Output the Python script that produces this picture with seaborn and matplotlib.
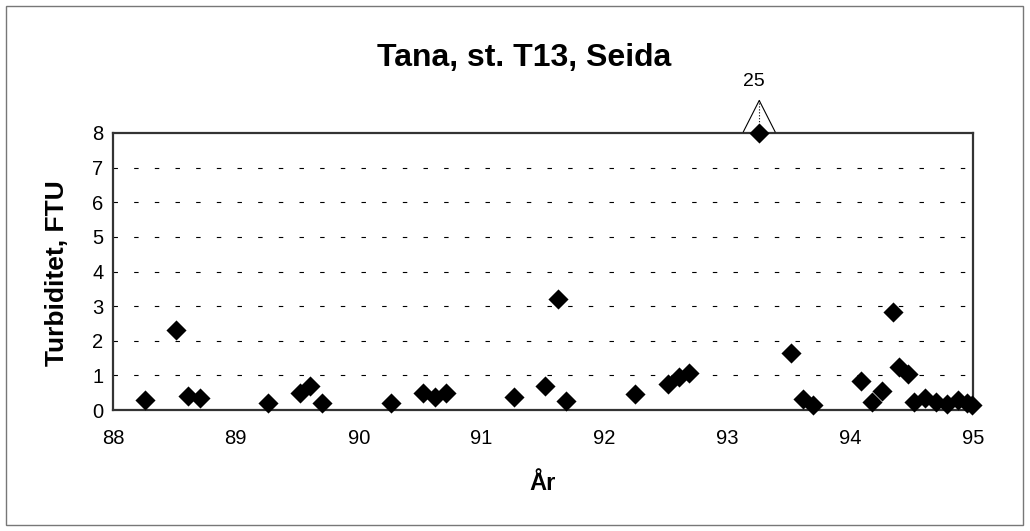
import numpy as np
import pandas as pd
import matplotlib
matplotlib.use("Agg")
import matplotlib.pyplot as plt
import seaborn as sns
from matplotlib.patches import Rectangle

# ---- data ----
year = [88.26, 88.51, 88.61, 88.71, 89.26, 89.52, 89.60, 89.70,
        90.26, 90.52, 90.62, 90.71, 91.26, 91.52, 91.62, 91.69,
        92.25, 92.52, 92.61, 92.69, 93.26, 93.52, 93.62, 93.70,
        94.09, 94.18, 94.26, 94.35, 94.40, 94.47, 94.52, 94.61,
        94.70, 94.79, 94.88, 94.95, 94.99]
turbiditet = [0.30, 2.30, 0.40, 0.35, 0.20, 0.50, 0.70, 0.20,
              0.20, 0.48, 0.37, 0.48, 0.37, 0.68, 3.20, 0.26,
              0.47, 0.76, 0.95, 1.07, 25.0, 1.65, 0.32, 0.15,
              0.84, 0.24, 0.55, 2.84, 1.25, 1.05, 0.24, 0.35,
              0.24, 0.17, 0.28, 0.19, 0.14]
x_ticks = [88, 89, 90, 91, 92, 93, 94, 95]
y_ticks = [0, 1, 2, 3, 4, 5, 6, 7, 8]
title = "Tana, st. T13, Seida"
xlabel = "År"
ylabel = "Turbiditet, FTU"

y_max = 8
df = pd.DataFrame({"year": year, "turb": turbiditet})
df["shown"] = np.minimum(df["turb"], y_max)

sns.set_theme(style="white")
plt.rcParams["font.family"] = ["Liberation Sans", "DejaVu Sans"]
plt.rcParams["text.color"] = "black"

fig = plt.figure(figsize=(10.30, 5.31), dpi=100)
ax = fig.add_axes([113 / 1030, 1 - 410 / 531, (973 - 113) / 1030, (410 - 133) / 531])

sns.scatterplot(data=df, x="year", y="shown", marker="D", color="black",
                s=105, linewidth=0, ax=ax, clip_on=False, zorder=5)

ax.set_xlim(88, 95)
ax.set_ylim(0, y_max)
ax.set_xticks(x_ticks)
ax.set_xticklabels([str(t) for t in x_ticks])
ax.set_yticks(y_ticks)
ax.set_yticklabels([str(t) for t in y_ticks])
ax.tick_params(axis="both", direction="inout", length=8, width=1,
               color="#222222", labelsize=14.5, labelcolor="black")
ax.tick_params(axis="x", pad=10)
ax.tick_params(axis="y", pad=3)

for gy in y_ticks[1:-1]:
    ax.axhline(gy, color="black", lw=0.8, dashes=(4, 14.6), zorder=1)

for sp in ax.spines.values():
    sp.set_visible(True)
    sp.set_color("#333333")
    sp.set_linewidth(1.6)

ax.set_xlabel("")
ax.set_ylabel("")

# annotation for the clipped value
idx = int(np.argmax(df["turb"].values))
px = df["year"].iloc[idx]
ax.plot([px - 0.13, px, px + 0.13], [8.03, 8.94, 8.03], color="black",
        lw=0.8, clip_on=False, zorder=6)
ax.plot([px, px], [8.94, 8.1], color="black", lw=0.8, ls=":",
        clip_on=False, zorder=6)
ax.text(px - 0.04, 9.25, f"{df['turb'].iloc[idx]:g}", ha="center",
        va="bottom", fontsize=14, color="black", clip_on=False)

fig.text(524 / 1030, 1 - 66 / 531, title, ha="center", va="baseline",
         fontsize=23, fontweight="bold", color="black")
fig.text(543 / 1030, 1 - 490 / 531, xlabel, ha="center", va="baseline",
         fontsize=17, fontweight="bold", color="black")
fig.text(57 / 1030, 1 - 273 / 531, ylabel, ha="center", va="center",
         rotation=90, fontsize=19, fontweight="bold", color="black")

fig.patches.append(Rectangle((6 / 1030, 1 - 525 / 531), (1023 - 6) / 1030,
                             (525 - 6) / 531, transform=fig.transFigure,
                             fill=False, edgecolor="#777777", lw=1))

fig.savefig("out.png", dpi=100)
